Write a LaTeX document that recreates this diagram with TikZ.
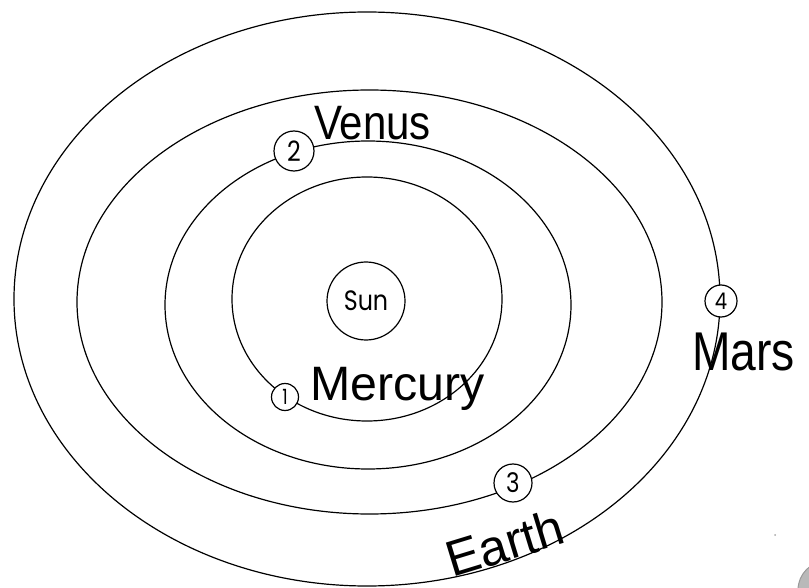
\documentclass[tikz,border=0pt]{standalone}
\usepackage{fontspec}
\newfontfamily\handfont{Liberation Sans}
\newfontfamily\roundfont{Poppins}
\begin{document}
\begin{tikzpicture}[x=1pt,y=-1pt,
  orbit/.style={draw=black, line width=1.2pt},
  body/.style={circle, draw=black, fill=white, line width=1.2pt, inner sep=0pt, minimum size=#1},
  num/.style={font=\roundfont\fontsize{#1}{#1}\selectfont},
  hand/.style={font=\handfont\fontsize{#1}{#1}\selectfont, inner sep=0pt}]
\useasboundingbox (0,0) rectangle (809,588);
\clip (0,0) rectangle (809,588);
% orbits
\draw[orbit] (367,299) ellipse [x radius=353, y radius=287];
\draw[orbit] (369.5,302) ellipse [x radius=292.5, y radius=212];
\draw[orbit] (368,305) ellipse [x radius=203, y radius=164];
\draw[orbit] (367,299) ellipse [x radius=135, y radius=122];
% sun
\node[body=78, num=28] (sun) at (366,301) {\scalebox{0.85}[1]{Sun}};
% planets
\node[body=27, num=21] (p1) at (285,397) {\scalebox{0.8}[1]{1}};
\node[body=40, num=28] (p2) at (294,151) {\scalebox{0.85}[1]{2}};
\node[body=38, num=27] (p3) at (513,483) {\scalebox{0.85}[1]{3}};
\node[body=32, num=23] (p4) at (721,301) {\scalebox{0.85}[1]{4}};
% labels
\node[hand=42, anchor=base west] (venus) at (314,140) {\scalebox{1}[1.15]{Venus}};
\node[hand=42, anchor=base west] (mercury) at (310,400) {\scalebox{1.15}[1.15]{Mercury}};
\node[hand=42, anchor=base west] (mars) at (692,370) {\scalebox{1.1}[1.3]{Mars}};
\node[hand=42, anchor=base west, rotate=17] (earth) at (452,578) {\scalebox{1.2}[1.2]{Earth}};
% scan marks
\fill[gray!55, draw=gray!80, line width=1pt] (827,590) circle (29);
\fill[gray!70] (775,535) circle (1);
\end{tikzpicture}
\end{document}
